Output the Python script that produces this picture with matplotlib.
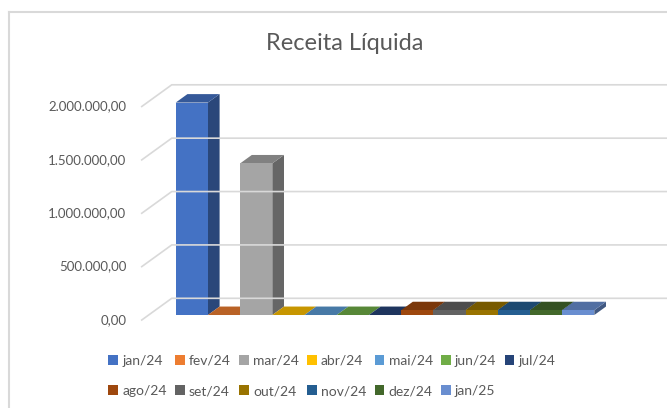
import matplotlib.pyplot as plt
from matplotlib.patches import Polygon, Patch
from matplotlib.lines import Line2D
from matplotlib.transforms import IdentityTransform

plt.rcParams['font.family'] = ['Lato', 'DejaVu Sans']

# data
months = ["jan/24", "fev/24", "mar/24", "abr/24", "mai/24", "jun/24", "jul/24",
          "ago/24", "set/24", "out/24", "nov/24", "dez/24", "jan/25"]
receita = [1990000, 0, 1420000, 0, 0, 0, 0,
           45000, 45000, 45000, 45000, 45000, 45000]
colors = ["#4472C4", "#ED7D31", "#A5A5A5", "#FFC000", "#5B9BD5", "#70AD47", "#264478",
          "#9E480E", "#636363", "#997300", "#255E91", "#43682B", "#698ED0"]
ticks = [0, 500000, 1000000, 1500000, 2000000]
title = "Receita Líquida"


def fmt_br(v):
    s = f"{v:,.2f}"
    return s.replace(",", "X").replace(".", ",").replace("X", ".")


def shade(c, f):
    c = c.lstrip("#")
    r, g, b = (int(c[i:i + 2], 16) for i in (0, 2, 4))
    return (r * f / 255, g * f / 255, b * f / 255)


W, H = 667, 408
fig = plt.figure(figsize=(W / 100, H / 100), dpi=100)
ax = fig.add_axes([0, 0, 1, 1])
ax.axis("off")

# front plane scale: category width 32.2 px, 2M = 213.5 px
cat_px = 32.2
k = 213.5 / 2e6
x0, y0 = 168.8, H - 320
ax.set_xlim(-x0 / cat_px, (W - x0) / cat_px)
ax.set_ylim(-y0 / k, (H - y0) / k)

# depth of the floor (pixels) and bar depth range
DX, DY = 30, 21.7
zf, zb = 0.23, 0.62
xl, xr = -0.84, 14.6


def disp(x, v, z):
    p = ax.transData.transform((x, v))
    return (p[0] + DX * z, p[1] + DY * z)


grid = "#D9D9D9"
for t in ticks:
    a = disp(xl, t, 0)
    b = disp(xl, t, 1)
    c = disp(xr, t, 1)
    ax.add_line(Line2D([a[0], b[0], c[0]], [a[1], b[1], c[1]], color=grid,
                       lw=1.2, transform=IdentityTransform()))
    ax.annotate(fmt_br(t), (xl, t), xytext=(-11, 0), textcoords="offset points",
                ha="right", va="center", fontsize=9.5, color="#595959")

for i, (v, col) in enumerate(zip(receita, colors)):
    side = [disp(i + 1, 0, zf), disp(i + 1, v, zf), disp(i + 1, v, zb), disp(i + 1, 0, zb)]
    top = [disp(i, v, zf), disp(i + 1, v, zf), disp(i + 1, v, zb), disp(i, v, zb)]
    front = [disp(i, 0, zf), disp(i + 1, 0, zf), disp(i + 1, v, zf), disp(i, v, zf)]
    if v > 0:
        ax.add_patch(Polygon(side, closed=True, facecolor=shade(col, 0.62), edgecolor="none",
                             transform=IdentityTransform()))
    ax.add_patch(Polygon(top, closed=True, facecolor=shade(col, 0.78), edgecolor="none",
                         transform=IdentityTransform()))
    if v > 0:
        ax.add_patch(Polygon(front, closed=True, facecolor=col, edgecolor="none",
                             transform=IdentityTransform()))

fig.text(345 / W, 1 - 43 / H, title, ha="center", va="center", fontsize=17, color="#595959")

# legend, row-major order over two rows
order = [0, 7, 1, 8, 2, 9, 3, 10, 4, 11, 5, 12, 6]
handles = [Patch(facecolor=colors[j], edgecolor="none") for j in order]
labels = [months[j] for j in order]
fig.legend(handles, labels, ncol=7, loc="center", bbox_to_anchor=(0.4975, 1 - 376 / H),
           frameon=False, fontsize=10, labelcolor="#595959", handlelength=0.7,
           handleheight=0.7, handletextpad=0.3, columnspacing=0.6, labelspacing=1.3)

# chart border (left and top)
fig.add_artist(Line2D([8.5 / W, 8.5 / W], [0, 1 - 11.5 / H], color=grid, lw=1.5))
fig.add_artist(Line2D([8.5 / W, 1], [1 - 11.5 / H, 1 - 11.5 / H], color=grid, lw=1.5))

fig.savefig("out.png", dpi=100)
